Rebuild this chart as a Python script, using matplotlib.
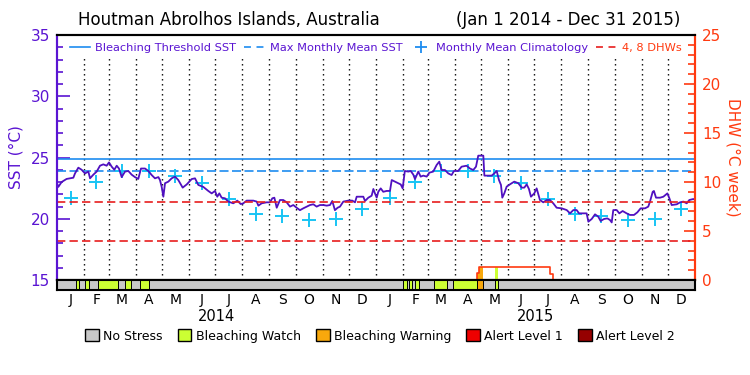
import numpy as np
import pandas as pd
import matplotlib
matplotlib.use("Agg")
import matplotlib.pyplot as plt
from matplotlib.lines import Line2D
from matplotlib.patches import Patch
from matplotlib.ticker import MultipleLocator

# days counted from Jan 1 2014
sst_days = [0, 1.5, 5.3, 11, 18.7, 20.6, 24.4, 28.2, 32, 35.9, 37.8, 41.6, 45.4, 49.2, 53, 56.8, 59.5, 62.6,
            65.6, 68.3, 70.9, 74, 77.8, 81.6, 85.4, 89.2, 93, 96.1, 100.7, 104.5, 108.3, 112.1, 116,
            117.8, 119.8, 121.7, 123.6, 127.4, 131.2, 135, 138.8, 143.8, 148.4, 154.1, 157.9, 161.7, 167.4,
            173.1, 177, 180.8, 183.4, 185.7, 188.4, 192.2, 196, 201.7, 206.3, 210.2, 213.2, 217, 224.6,
            228.5, 230.4, 234.2, 239.9, 243.7, 246.4, 248.7, 251.4, 255.1, 258.9, 262.8, 266.6, 270.4,
            274.2, 278, 281.8, 285.7, 289.5, 293.3, 297.1, 300.9, 304.7, 308.6, 312.4, 315, 318, 321.1,
            323.8, 327.6, 333.3, 337.9, 341, 342.9, 350.5, 352.4, 356.2, 360, 362, 363.8, 365.8, 367.6,
            370.4, 373.3, 377.2, 381, 383, 386.7, 390.5, 393.3, 395.5, 398, 402, 404.7, 407.7, 409.6,
            413.4, 416.1, 419.1, 423, 426, 430.5, 434.4, 437.4, 440.1, 443.9, 447.7, 451.5, 454.2, 459,
            462.9, 468.6, 472.5, 476.3, 479.4, 482, 487.8, 489, 497.3, 500.3, 503.1, 505.7, 508, 509.5,
            511.8, 514.5, 518.3, 523.2, 527.8, 531.7, 534.7, 537.4, 540, 542.3, 546.1, 548.8, 552.6,
            556.4, 560.3, 564, 567.8, 571.7, 577.5, 583.2, 587, 590.8, 594.6, 597.3, 606, 608, 611.8,
            615.6, 619.3, 622, 625.9, 629.7, 632.7, 634.7, 636.5, 640.4, 643.4, 647.2, 651.8, 655.6,
            660.2, 664, 667.8, 672.8, 676.5, 678.5, 681.6, 683, 685.4, 690, 693.8, 698.4, 700.7, 703.3,
            709.1, 712.9, 716.7, 720.5, 723.5, 728.1, 730]
sst = [22.9, 22.6, 23.0, 23.25, 23.35, 23.7, 24.17, 24.0, 23.7, 23.85, 23.3, 23.6, 23.85, 24.33, 24.44, 24.33,
       24.6, 24.25, 24.0, 24.33, 24.1, 23.4, 23.85, 23.9, 23.6, 23.4, 23.25, 24.1, 24.1, 23.9, 23.57, 23.3,
       23.4, 23.16, 22.6, 21.8, 22.9, 23.03, 23.3, 23.44, 23.16, 22.54, 22.8, 23.24, 23.3, 22.76, 22.6,
       22.27, 22.07, 22.27, 21.8, 22.07, 21.72, 21.67, 21.4, 21.26, 21.48, 21.2, 21.26, 21.48, 21.48,
       21.4, 21.07, 21.26, 21.34, 21.34, 21.67, 21.72, 20.9, 21.53, 21.53, 21.34, 20.99, 21.12, 20.9,
       20.7, 20.85, 20.99, 21.12, 21.18, 20.99, 21.12, 21.12, 21.07, 21.12, 21.45, 20.7, 20.9, 20.99,
       21.4, 21.48, 21.48, 21.34, 21.8, 21.8, 21.45, 21.72, 21.88, 22.43, 22.07, 21.72, 22.2, 22.48,
       22.2, 22.27, 22.27, 23.16, 23.03, 22.9, 22.8, 22.48, 23.9, 23.85, 23.9, 23.6, 23.24, 23.85,
       23.44, 23.52, 23.44, 23.76, 23.85, 24.39, 24.66, 23.98, 23.98, 23.7, 23.57, 23.9, 23.9, 24.25,
       24.33, 24.1, 23.98, 24.25, 25.15, 25.15, 23.52, 23.52, 23.7, 23.9, 23.16, 22.76, 21.72, 22.07,
       22.62, 22.81, 23.03, 22.9, 22.54, 22.54, 22.81, 22.43, 21.8, 22.07, 22.48, 21.53, 21.34, 21.53,
       21.53, 21.26, 20.9, 20.85, 20.71, 20.44, 20.71, 20.71, 20.44, 20.44, 19.76, 19.98, 20.36, 20.17,
       19.82, 19.98, 20.03, 19.9, 19.7, 20.71, 20.71, 20.44, 20.63, 20.44, 20.31, 20.31, 20.52, 20.85,
       20.85, 20.99, 21.4, 22.2, 22.27, 21.72, 21.72, 21.8, 22.07, 21.67, 21.12, 21.18, 21.34, 21.4,
       21.26, 21.53, 21.61, 21.55]

clim = [21.67, 23.0, 23.9, 23.9, 23.5, 22.9, 21.6, 20.4, 20.2, 19.87, 20.0, 20.77]
mmm = 23.87
threshold = 24.87
dhw_levels = [4, 8]

dhw_days = [0, 480.2, 482.8, 564.3, 567.3, 730]
dhw = [0, 0.68, 1.33, 0.61, 0, 0]

# status bar: (start day, end day, level) 1 = watch, 2 = warning
status_start = [21.7, 32, 47.3, 78.1, 95.3, 396.2, 403, 410, 431.7, 452.7, 480.9, 501]
status_end = [25.5, 36.3, 70.1, 85, 105.6, 400.1, 406, 414, 445.9, 480.9, 487, 505]
status_level = [1, 1, 1, 1, 1, 1, 1, 1, 1, 1, 2, 1]

status_names = ['No Stress', 'Bleaching Watch', 'Bleaching Warning', 'Alert Level 1', 'Alert Level 2']
status_colors = ['#C8C8C8', '#CCFF33', '#F8A80C', '#EE0000', '#960000']
month_letters = ['J', 'F', 'M', 'A', 'M', 'J', 'J', 'A', 'S', 'O', 'N', 'D'] * 2

purple = '#5A14D2'
sst_col = '#5010C0'
red = '#FF3A10'
blue = '#1E8CF0'
cyan = '#18C4F4'
plt.rcParams['lines.scale_dashes'] = False

starts = pd.date_range('2014-01-01', '2016-01-01', freq='MS')
mdays = np.array([(d - starts[0]).days for d in starts])
mid = (mdays[:-1] + mdays[1:]) / 2

fig = plt.figure(figsize=(7.5, 3.75), dpi=100)
ax = fig.add_axes([57/750, 1-280/375, 638/750, 245/375])
ax.set_xlim(0, 730)
ax.set_ylim(15, 35)
ax2 = ax.twinx()
ax2.set_ylim(0, 25)

ax.vlines(mdays[1:-1], 15, 33.2, colors='k', linestyles=(0, (1, 2.6)), lw=1.0, zorder=1)
ax.axhline(threshold, color=blue, lw=1.2)
ax.axhline(mmm, color=blue, lw=1.2, dashes=(6.5, 2.5))
for lev in dhw_levels:
    ax2.axhline(lev, color='#E81E1E', lw=1.2, dashes=(6, 3))
ax.plot(mid, clim * 2, ls='none', marker='+', ms=10, mew=1.4, color=cyan, zorder=3)
ax.plot(sst_days, sst, color=sst_col, lw=1.3, zorder=4)

# DHW area coloured by status
dd = np.array(dhw_days)
dv = np.array(dhw)
for s, e, lev in zip(status_start, status_end, status_level):
    xs = np.concatenate([[s], dd[(dd > s) & (dd < e)], [e]])
    ys = dv[np.searchsorted(dd, xs, side='right') - 1]
    ax2.fill_between(xs, 0, ys, step='post', color=status_colors[lev], lw=0)
ax2.step(dhw_days, dhw, where='post', color=red, lw=1.2)

ax.set_xticks([])
ax.yaxis.set_minor_locator(MultipleLocator(1))
ax.set_yticks([15, 20, 25, 30, 35])
ax.tick_params(axis='y', which='major', direction='in', length=9.5, width=1.2, color=purple,
               labelcolor=purple, labelsize=11, pad=5)
ax.tick_params(axis='y', which='minor', direction='in', length=4.5, width=1.2, color=purple)
ax2.yaxis.set_minor_locator(MultipleLocator(1))
ax2.set_yticks([0, 5, 10, 15, 20, 25])
ax2.tick_params(axis='y', which='major', direction='in', length=8, width=1.2, color=red,
                labelcolor=red, labelsize=11, pad=5)
ax2.tick_params(axis='y', which='minor', direction='in', length=5, width=1.2, color=red)
ax.set_ylabel('SST (°C)', color=purple, fontsize=11, labelpad=5)
ax2.set_ylabel('DHW (°C week)', color=red, fontsize=11, rotation=-90, labelpad=14)

for a in (ax, ax2):
    a.spines['left'].set_color(purple)
    a.spines['right'].set_color(red)
    for sp in a.spines.values():
        sp.set_linewidth(1.5)

leg_handles = [Line2D([], [], color=blue, lw=1.2),
               Line2D([], [], color=blue, lw=1.2, dashes=(5, 4)),
               Line2D([], [], ls='none', marker='+', ms=8, mew=1.3, color=blue),
               Line2D([], [], color='#E81E1E', lw=1.2, dashes=(5, 4))]
leg_labels = ['Bleaching Threshold SST', 'Max Monthly Mean SST', 'Monthly Mean Climatology', '4, 8 DHWs']
leg = ax2.legend(leg_handles, leg_labels, ncol=4, loc='center left', bbox_to_anchor=(0.02, 0.947),
                 frameon=False, fontsize=8.2, handlelength=1.8, handletextpad=0.45, columnspacing=0.7,
                 borderpad=0, borderaxespad=0)
for t, c in zip(leg.get_texts(), [purple, purple, purple, red]):
    t.set_color(c)

# status bar
bar = fig.add_axes([57/750, 1-290/375, 638/750, 10/375])
bar.set_xlim(0, 730)
bar.set_ylim(0, 1)
bar.set_facecolor(status_colors[0])
bar.broken_barh([(s, e - s) for s, e in zip(status_start, status_end)], (0, 1),
                facecolors=[status_colors[l] for l in status_level], edgecolor='k', lw=0.7)
bar.set_yticks([])
bar.set_xticks(mid)
bar.set_xticklabels(month_letters, fontsize=10)
bar.tick_params(axis='x', length=0, pad=2)
for sp in bar.spines.values():
    sp.set_linewidth(1.5)
bar.text(182.5, -2.6, '2014', ha='center', va='center', fontsize=10.5)
bar.text(547.5, -2.6, '2015', ha='center', va='center', fontsize=10.5)

fig.text(78/750, 1-20/375, 'Houtman Abrolhos Islands, Australia', ha='left', va='center', fontsize=12)
fig.text(680/750, 1-20/375, '(Jan 1 2014 - Dec 31 2015)', ha='right', va='center', fontsize=12)

fig.legend([Patch(facecolor=c, edgecolor='k', lw=1) for c in status_colors], status_names, ncol=5,
           loc='center', bbox_to_anchor=(380/750, 1-336/375), frameon=False, fontsize=9,
           handlelength=1.1, handleheight=1.1, handletextpad=0.35, columnspacing=1.2)

fig.savefig('out.png', dpi=100)
